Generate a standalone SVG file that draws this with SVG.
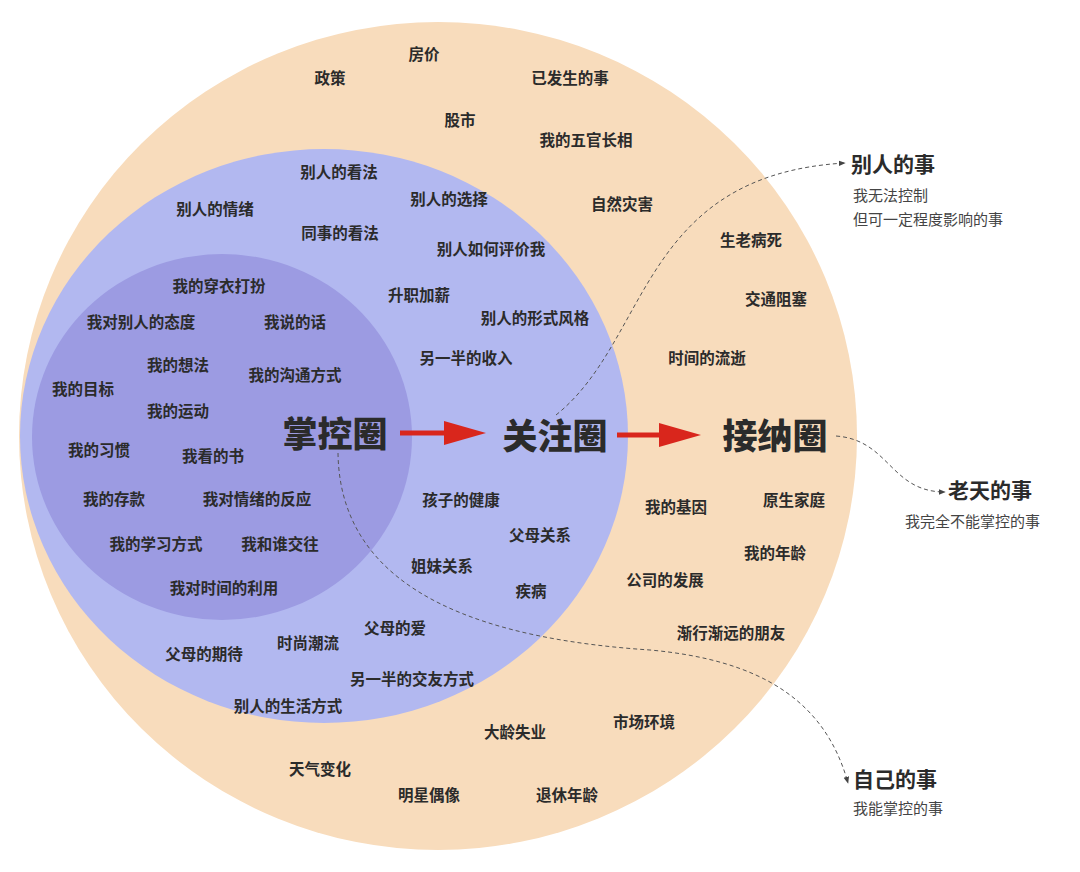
<svg xmlns="http://www.w3.org/2000/svg" width="1080" height="872" viewBox="0 0 1080 872">
<style>
text{font-family:"Noto Sans CJK SC","Liberation Sans",sans-serif;fill:#2b2b2b}
.t{font-size:15.5px;font-weight:bold;text-anchor:middle}
.b{font-size:35px;font-weight:900;text-anchor:middle}
.h{font-size:21px;font-weight:bold}
.s{font-size:15px;fill:#444}
.d{fill:none;stroke:#555;stroke-width:1;stroke-dasharray:4 3}
.r{stroke:#d9261c;stroke-width:5}
.ra{fill:#d9261c}
</style>
<defs>
<marker id="ah" viewBox="0 0 10 10" refX="9" refY="5" markerWidth="7" markerHeight="7" orient="auto"><path d="M0,1L10,5L0,9z" fill="#444"/></marker>
</defs>
<g id="outer"><ellipse cx="438" cy="436" rx="419" ry="414" fill="#f8dcbc"/>
<g>
<text class="t" x="424" y="60">房价</text><text class="t" x="330" y="84">政策</text><text class="t" x="570" y="84">已发生的事</text>
<text class="t" x="460" y="126">股市</text><text class="t" x="586" y="146">我的五官长相</text><text class="t" x="622" y="210">自然灾害</text>
<text class="t" x="751" y="246">生老病死</text><text class="t" x="776" y="305">交通阻塞</text><text class="t" x="707" y="364">时间的流逝</text>
<text class="t" x="676" y="513">我的基因</text><text class="t" x="794" y="506">原生家庭</text><text class="t" x="775" y="559">我的年龄</text>
<text class="t" x="665" y="586">公司的发展</text><text class="t" x="731" y="639">渐行渐远的朋友</text><text class="t" x="644" y="728">市场环境</text>
<text class="t" x="515" y="738">大龄失业</text><text class="t" x="320" y="775">天气变化</text><text class="t" x="429" y="801">明星偶像</text><text class="t" x="567" y="801">退休年龄</text>
</g></g>
<g id="middle"><ellipse cx="324" cy="436" rx="304" ry="287" fill="#b2b8f0"/>
<text class="t" x="339" y="178">别人的看法</text><text class="t" x="215" y="215">别人的情绪</text><text class="t" x="449" y="205">别人的选择</text>
<text class="t" x="340" y="239">同事的看法</text><text class="t" x="491" y="255">别人如何评价我</text><text class="t" x="419" y="301">升职加薪</text>
<text class="t" x="535" y="324">别人的形式风格</text><text class="t" x="466" y="364">另一半的收入</text><text class="t" x="461" y="506">孩子的健康</text>
<text class="t" x="540" y="541">父母关系</text><text class="t" x="442" y="572">姐妹关系</text><text class="t" x="531" y="597">疾病</text>
<text class="t" x="395" y="634">父母的爱</text><text class="t" x="308" y="649">时尚潮流</text><text class="t" x="204" y="660">父母的期待</text>
<text class="t" x="412" y="685">另一半的交友方式</text><text class="t" x="288" y="712">别人的生活方式</text>
</g>
<g id="inner"><ellipse cx="222" cy="437" rx="190" ry="183" fill="#9c9be2"/>
<text class="t" x="219" y="292">我的穿衣打扮</text><text class="t" x="141" y="328">我对别人的态度</text><text class="t" x="295" y="328">我说的话</text>
<text class="t" x="178" y="371">我的想法</text><text class="t" x="295" y="381">我的沟通方式</text><text class="t" x="83" y="395">我的目标</text>
<text class="t" x="178" y="417">我的运动</text><text class="t" x="99" y="456">我的习惯</text><text class="t" x="213" y="462">我看的书</text>
<text class="t" x="114" y="505">我的存款</text><text class="t" x="257" y="505">我对情绪的反应</text><text class="t" x="156" y="550">我的学习方式</text>
<text class="t" x="280" y="550">我和谁交往</text><text class="t" x="224" y="594">我对时间的利用</text>
</g>
<g id="titles">
<text class="b" x="335" y="447">掌控圈</text><text class="b" x="555" y="449">关注圈</text><text class="b" x="775" y="449">接纳圈</text>
</g>
<g id="connectors">
<line class="r" x1="400" y1="433" x2="450" y2="433"/><polygon class="ra" points="444,421 486,433 444,445"/>
<line class="r" x1="617" y1="435" x2="665" y2="435"/><polygon class="ra" points="659,423 701,435 659,447"/>
<path class="d" d="M556,415 C650,340 640,175 845,163" marker-end="url(#ah)"/>
<path class="d" d="M836,436 C890,440 890,492 945,492" marker-end="url(#ah)"/>
<path class="d" d="M338,453 C340,600 500,640 650,650 C760,660 825,700 848,783" marker-end="url(#ah)"/>
</g>
<g id="notes">
<text class="h" x="851" y="172">别人的事</text><text class="s" x="853" y="201">我无法控制</text><text class="s" x="853" y="225">但可一定程度影响的事</text>
<text class="h" x="948" y="498">老天的事</text><text class="s" x="905" y="527">我完全不能掌控的事</text>
<text class="h" x="853" y="787">自己的事</text><text class="s" x="853" y="814">我能掌控的事</text>
</g>
</svg>
